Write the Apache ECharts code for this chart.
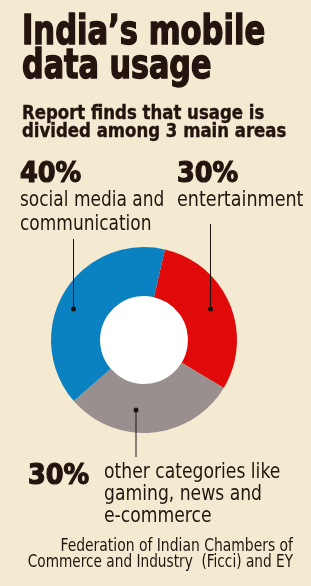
<!DOCTYPE html>
<html>
<head>
<meta charset="utf-8">
<script src="https://cdn.jsdelivr.net/npm/echarts@6/dist/echarts.min.js"></script>
<style>
  html, body { margin: 0; padding: 0; background: #f3ead1; }
  #chart { width: 311px; height: 586px; }
</style>
</head>
<body>
<div id="chart"></div>
<script>
// data, clockwise from the red slice
const categories = ['entertainment', 'other categories like gaming, news and e-commerce', 'social media and communication']
const shares = [30, 30, 40]
const sliceColors = ['#e00a0a', '#9a8f8f', '#0a82c2']
const titleLines = ['India\u2019s mobile', 'data usage']
const subtitleLines = ['Report finds that usage is', 'divided among 3 main areas']
const sourceLines = ['Federation of Indian Chambers of', 'Commerce and Industry  (Ficci) and EY']

const condensed = '"DejaVu Sans Condensed", "Liberation Sans Narrow", "Roboto", sans-serif'
const ink = '#24140f'

const chart = echarts.init(document.getElementById('chart'))

// heavy = extra stroke to mimic the black-weight headline face
function txt(text, x, y, size, weight, sx, align, heavy) {
  const style = { text: text, fill: ink, font: weight + ' ' + size + 'px ' + condensed, align: align || 'left', verticalAlign: 'middle' }
  if (heavy) {
    style.stroke = ink
    style.lineWidth = heavy
  }
  return { type: 'text', x: x, y: y, scaleX: sx, scaleY: 1, silent: true, z: 20, style: style }
}
function lead(x, y1, y2, dotY) {
  return [
    { type: 'line', silent: true, z: 20, shape: { x1: x, y1: y1, x2: x, y2: y2 }, style: { stroke: '#1b1210', lineWidth: 1 } },
    { type: 'circle', silent: true, z: 20, shape: { cx: x, cy: dotY, r: 2.5 }, style: { fill: '#1b1210' } }
  ]
}

const pct = shares.map(v => v + '%')

const graphics = [
  txt(titleLines[0], 22, 34, 40, 'bold', 0.85, 'left', 1.4),
  txt(titleLines[1], 22, 68, 40, 'bold', 0.84, 'left', 1.4),
  txt(subtitleLines[0], 22, 114, 20, 'bold', 0.92, 'left', 0.4),
  txt(subtitleLines[1], 22, 132, 20, 'bold', 0.92, 'left', 0.4),
  txt(pct[2], 20, 174, 29, 'bold', 0.98, 'left', 1.2),
  txt('social media and', 20, 201, 21, 'normal', 0.9),
  txt('communication', 20, 225, 21, 'normal', 0.9),
  txt(pct[0], 177, 174, 29, 'bold', 0.98, 'left', 1.2),
  txt('entertainment', 177, 201, 21, 'normal', 0.93),
  txt(pct[1], 28, 476, 29, 'bold', 0.98, 'left', 1.2),
  txt('other categories like', 104, 473, 21, 'normal', 0.91),
  txt('gaming, news and', 104, 495, 21, 'normal', 0.91),
  txt('e-commerce', 104, 517, 21, 'normal', 0.91),
  txt(sourceLines[0], 293, 547, 17, 'normal', 0.91, 'right'),
  txt(sourceLines[1], 293, 563, 17, 'normal', 0.895, 'right'),
  { type: 'circle', silent: true, shape: { cx: 144, cy: 340, r: 44 }, style: { fill: '#ffffff' } }
].concat(lead(73.5, 239, 309, 309), lead(210.5, 224, 309, 309), lead(136, 410, 457, 410))

chart.setOption({
  backgroundColor: '#f3ead1',
  animation: false,
  graphic: graphics,
  series: [
    {
      type: 'pie',
      center: [144, 340],
      radius: [44, 93],
      startAngle: 77,
      clockwise: true,
      silent: true,
      label: { show: false },
      labelLine: { show: false },
      data: categories.map((name, i) => ({
        name: name,
        value: shares[i],
        itemStyle: { color: sliceColors[i] }
      }))
    }
  ]
})
</script>
</body>
</html>
